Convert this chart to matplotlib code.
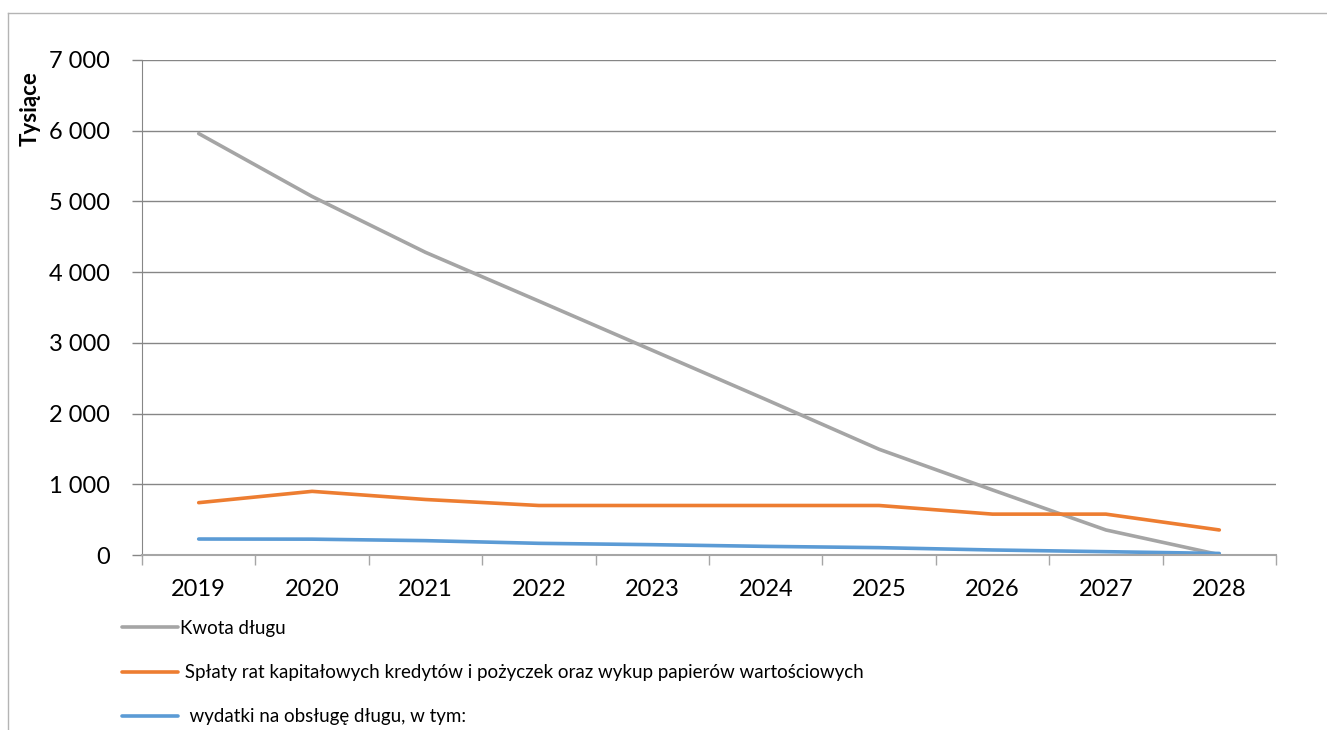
import matplotlib.pyplot as plt
from matplotlib.lines import Line2D
from matplotlib.ticker import FuncFormatter

years = ['2019', '2020', '2021', '2022', '2023', '2024', '2025', '2026', '2027', '2028']
kwota_dlugu = [5960, 5070, 4280, 3590, 2895, 2200, 1495, 920, 354, 5]
splaty_rat = [740, 900, 785, 700, 700, 700, 700, 578, 578, 354]
wydatki_obsluga = [226, 224, 203, 165, 146, 122, 104, 71, 47, 22]

labels = ['Kwota długu',
          ' Spłaty rat kapitałowych kredytów i pożyczek oraz wykup papierów wartościowych',
          '  wydatki na obsługę długu, w tym:']
colors = ['#a5a5a5', '#ed7d31', '#5b9bd5']

plt.rcParams['font.family'] = ['Lato', 'DejaVu Sans']

fig = plt.figure(figsize=(13.27, 7.30), dpi=100)
ax = fig.add_axes([142 / 1327, 1 - 555 / 730, (1276 - 142) / 1327, (555 - 60) / 730])

x = list(range(len(years)))
for vals, lab, col in zip([kwota_dlugu, splaty_rat, wydatki_obsluga], labels, colors):
    ax.plot(x, vals, color=col, linewidth=2.6, label=lab, solid_capstyle='round')

ax.set_xlim(-0.5, len(years) - 0.5)
ax.set_ylim(0, 7000)
ax.set_yticks(range(0, 7001, 1000))
ax.yaxis.set_major_formatter(FuncFormatter(lambda v, p: f'{int(v):,}'.replace(',', ' ')))
ax.set_xticks(x)
ax.set_xticklabels(years)
ax.set_xticks([i - 0.5 for i in range(len(years) + 1)], minor=True)
ax.tick_params(axis='x', which='major', length=0, pad=17, labelsize=17)
ax.tick_params(axis='x', which='minor', length=7, color='#a6a6a6', width=1)
ax.tick_params(axis='y', length=7, color='#868686', width=1, pad=16, labelsize=17)

ax.grid(axis='y', color='#868686', linewidth=1)
ax.set_axisbelow(True)
for s in ['top', 'right']:
    ax.spines[s].set_visible(False)
ax.spines['left'].set_color('#868686')
ax.spines['bottom'].set_color('#a6a6a6')
ax.spines['bottom'].set_linewidth(1.5)

fig.text(30 / 1327, 1 - 109 / 730, 'Tysiące', rotation=90, ha='center', va='center',
         fontsize=16, fontweight='bold')

fig.legend(loc='upper left', bbox_to_anchor=(122 / 1327, 1 - 620 / 730), frameon=False,
           fontsize=13.5, handlelength=3.0, handletextpad=0.1, labelspacing=1.45,
           borderaxespad=0, borderpad=0)

# outer chart border (top and left visible)
fig.add_artist(Line2D([8 / 1327, 1], [1 - 13 / 730, 1 - 13 / 730], color='#b4b4b4', linewidth=1))
fig.add_artist(Line2D([8 / 1327, 8 / 1327], [0, 1 - 13 / 730], color='#b4b4b4', linewidth=1))

plt.savefig('out.png', dpi=100)
